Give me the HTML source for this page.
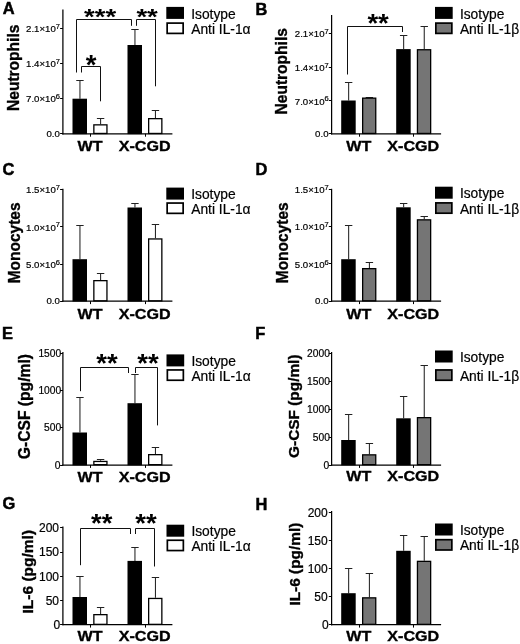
<!DOCTYPE html>
<html><head><meta charset="utf-8"><title>Figure</title>
<style>html,body{margin:0;padding:0;background:#fff}svg{display:block}text{font-family:"Liberation Sans", Arial, sans-serif;fill:#000}</style>
</head><body>
<svg width="520" height="644" viewBox="0 0 520 644">
<rect x="0" y="0" width="520" height="644" fill="#fff"/>
<line x1="79.95" y1="80" x2="79.95" y2="98.7" stroke="#222" stroke-width="1.05"/>
<line x1="76.25" y1="80.5" x2="83.65" y2="80.5" stroke="#222" stroke-width="1.0"/>
<rect x="72.5" y="98.7" width="14.5" height="35.4" fill="#000"/>
<line x1="100.6" y1="118.8" x2="100.6" y2="124.2" stroke="#222" stroke-width="1.05"/>
<line x1="96.9" y1="118.5" x2="104.3" y2="118.5" stroke="#222" stroke-width="1.0"/>
<rect x="93.85" y="124.85" width="13.1" height="8.6" fill="#fff" stroke="#000" stroke-width="1.3"/>
<line x1="134.95" y1="29.5" x2="134.95" y2="45" stroke="#222" stroke-width="1.05"/>
<line x1="131.25" y1="29.5" x2="138.65" y2="29.5" stroke="#222" stroke-width="1.0"/>
<rect x="127.5" y="45" width="14.5" height="89.1" fill="#000"/>
<line x1="155.45" y1="110" x2="155.45" y2="118" stroke="#222" stroke-width="1.05"/>
<line x1="151.75" y1="110.5" x2="159.15" y2="110.5" stroke="#222" stroke-width="1.0"/>
<rect x="148.65" y="118.65" width="13.2" height="14.8" fill="#fff" stroke="#000" stroke-width="1.3"/>
<line x1="62.9" y1="9.5" x2="62.9" y2="134.43" stroke="#000" stroke-width="1.25"/>
<line x1="62.27" y1="133.8" x2="172.4" y2="133.8" stroke="#000" stroke-width="1.25"/>
<line x1="60.1" y1="28.5" x2="62.9" y2="28.5" stroke="#000" stroke-width="1.0"/>
<text x="60" y="31.9" font-size="9.65" text-anchor="end" stroke="#000" stroke-width="0.2">2.1×10<tspan dy="-3.09" font-size="7.53">7</tspan></text>
<line x1="60.1" y1="63.5" x2="62.9" y2="63.5" stroke="#000" stroke-width="1.0"/>
<text x="60" y="67.1" font-size="9.65" text-anchor="end" stroke="#000" stroke-width="0.2">1.4×10<tspan dy="-3.09" font-size="7.53">7</tspan></text>
<line x1="60.1" y1="98.5" x2="62.9" y2="98.5" stroke="#000" stroke-width="1.0"/>
<text x="60" y="102.3" font-size="9.65" text-anchor="end" stroke="#000" stroke-width="0.2">7.0×10<tspan dy="-3.09" font-size="7.53">6</tspan></text>
<line x1="60.1" y1="133.5" x2="62.9" y2="133.5" stroke="#000" stroke-width="1.0"/>
<text x="59.8" y="137" font-size="9.65" text-anchor="end" stroke="#000" stroke-width="0.2">0.0</text>
<line x1="90.5" y1="133.8" x2="90.5" y2="136.7" stroke="#000" stroke-width="1.0"/>
<line x1="145.5" y1="133.8" x2="145.5" y2="136.7" stroke="#000" stroke-width="1.0"/>
<text transform="translate(90.0,151.4) scale(1.05,1)" font-size="15.35" font-weight="700" text-anchor="middle" stroke="#000" stroke-width="0.35">WT</text>
<text transform="translate(144.6,151.4) scale(1.05,1)" font-size="15.35" font-weight="700" text-anchor="middle" stroke="#000" stroke-width="0.35">X-CGD</text>
<text transform="translate(18.6,67.8) rotate(-90) scale(0.945,1)" font-size="16.46" font-weight="700" text-anchor="middle" stroke="#000" stroke-width="0.35">Neutrophils</text>
<text x="2.8" y="14.1" font-size="16.4" font-weight="700" text-anchor="start" stroke="#000" stroke-width="0.5">A</text>
<rect x="166.3" y="6.9" width="17.7" height="12" fill="#000"/>
<rect x="167.15" y="23.1" width="16" height="10.3" fill="#fff" stroke="#000" stroke-width="1.7"/>
<text x="191.2" y="18.5" font-size="13.8" text-anchor="start" stroke="#000" stroke-width="0.2">Isotype</text>
<text x="191.2" y="33.75" font-size="13.8" text-anchor="start" stroke="#000" stroke-width="0.2">Anti IL-1α</text>
<polyline points="76.5,72.5 76.5,19.5 131.5,19.5 131.5,25.8" fill="none" stroke="#111" stroke-width="1.0"/>
<text transform="translate(100.1,23.70) scale(1.02,0.85)" font-size="27" font-weight="700" text-anchor="middle">***</text>
<polyline points="81.5,72.5 81.5,66.5 100.5,66.5 100.5,101.3" fill="none" stroke="#111" stroke-width="1.0"/>
<text transform="translate(91,73.50) scale(1.02,1.03)" font-size="27" font-weight="700" text-anchor="middle">*</text>
<polyline points="136.5,25.8 136.5,19.5 155.5,19.5 155.5,86.3" fill="none" stroke="#111" stroke-width="1.0"/>
<text transform="translate(147.1,23.70) scale(1.02,0.85)" font-size="27" font-weight="700" text-anchor="middle">**</text>
<line x1="348.65" y1="82.5" x2="348.65" y2="100.5" stroke="#222" stroke-width="1.05"/>
<line x1="344.95" y1="82.5" x2="352.35" y2="82.5" stroke="#222" stroke-width="1.0"/>
<rect x="341.2" y="100.5" width="14.5" height="33.6" fill="#000"/>
<line x1="369.4" y1="97" x2="369.4" y2="97.5" stroke="#222" stroke-width="1.05"/>
<line x1="365.7" y1="97.5" x2="373.1" y2="97.5" stroke="#222" stroke-width="1.0"/>
<rect x="362.65" y="98.15" width="13.1" height="35.3" fill="#757575" stroke="#000" stroke-width="1.3"/>
<line x1="403.65" y1="35" x2="403.65" y2="49.1" stroke="#222" stroke-width="1.05"/>
<line x1="399.95" y1="35.5" x2="407.35" y2="35.5" stroke="#222" stroke-width="1.0"/>
<rect x="396.2" y="49.1" width="14.5" height="85" fill="#000"/>
<line x1="424.25" y1="26.2" x2="424.25" y2="49.1" stroke="#222" stroke-width="1.05"/>
<line x1="420.55" y1="26.5" x2="427.95" y2="26.5" stroke="#222" stroke-width="1.0"/>
<rect x="417.45" y="49.75" width="13.2" height="83.7" fill="#757575" stroke="#000" stroke-width="1.3"/>
<line x1="331.6" y1="15" x2="331.6" y2="134.43" stroke="#000" stroke-width="1.25"/>
<line x1="330.97" y1="133.8" x2="441.1" y2="133.8" stroke="#000" stroke-width="1.25"/>
<line x1="328.8" y1="33.5" x2="331.6" y2="33.5" stroke="#000" stroke-width="1.0"/>
<text x="328.7" y="37.2" font-size="9.65" text-anchor="end" stroke="#000" stroke-width="0.2">2.1×10<tspan dy="-3.09" font-size="7.53">7</tspan></text>
<line x1="328.8" y1="67.5" x2="331.6" y2="67.5" stroke="#000" stroke-width="1.0"/>
<text x="328.7" y="70.9" font-size="9.65" text-anchor="end" stroke="#000" stroke-width="0.2">1.4×10<tspan dy="-3.09" font-size="7.53">7</tspan></text>
<line x1="328.8" y1="100.5" x2="331.6" y2="100.5" stroke="#000" stroke-width="1.0"/>
<text x="328.7" y="104.5" font-size="9.65" text-anchor="end" stroke="#000" stroke-width="0.2">7.0×10<tspan dy="-3.09" font-size="7.53">6</tspan></text>
<line x1="328.8" y1="133.5" x2="331.6" y2="133.5" stroke="#000" stroke-width="1.0"/>
<text x="328.5" y="137" font-size="9.65" text-anchor="end" stroke="#000" stroke-width="0.2">0.0</text>
<line x1="359.5" y1="133.8" x2="359.5" y2="136.7" stroke="#000" stroke-width="1.0"/>
<line x1="413.5" y1="133.8" x2="413.5" y2="136.7" stroke="#000" stroke-width="1.0"/>
<text transform="translate(358.7,151.4) scale(1.05,1)" font-size="15.35" font-weight="700" text-anchor="middle" stroke="#000" stroke-width="0.35">WT</text>
<text transform="translate(413.29999999999995,151.4) scale(1.05,1)" font-size="15.35" font-weight="700" text-anchor="middle" stroke="#000" stroke-width="0.35">X-CGD</text>
<text transform="translate(286.8,71.3) rotate(-90) scale(0.945,1)" font-size="16.46" font-weight="700" text-anchor="middle" stroke="#000" stroke-width="0.35">Neutrophils</text>
<text x="255.6" y="14.5" font-size="16.4" font-weight="700" text-anchor="start" stroke="#000" stroke-width="0.5">B</text>
<rect x="435" y="6.9" width="17.7" height="12" fill="#000"/>
<rect x="435.85" y="23.1" width="16" height="10.3" fill="#757575" stroke="#000" stroke-width="1.7"/>
<text x="459.9" y="18.5" font-size="13.8" text-anchor="start" stroke="#000" stroke-width="0.2">Isotype</text>
<text x="459.9" y="33.75" font-size="13.8" text-anchor="start" stroke="#000" stroke-width="0.2">Anti IL-1β</text>
<polyline points="347.5,74.5 347.5,26.5 402.5,26.5 402.5,32" fill="none" stroke="#111" stroke-width="1.0"/>
<text transform="translate(378.1,31.70) scale(1.02,0.96)" font-size="27" font-weight="700" text-anchor="middle">**</text>
<line x1="79.95" y1="225" x2="79.95" y2="259.2" stroke="#222" stroke-width="1.05"/>
<line x1="76.25" y1="225.5" x2="83.65" y2="225.5" stroke="#222" stroke-width="1.0"/>
<rect x="72.5" y="259.2" width="14.5" height="42.3" fill="#000"/>
<line x1="100.6" y1="273.3" x2="100.6" y2="280" stroke="#222" stroke-width="1.05"/>
<line x1="96.9" y1="273.5" x2="104.3" y2="273.5" stroke="#222" stroke-width="1.0"/>
<rect x="93.85" y="280.65" width="13.1" height="20.2" fill="#fff" stroke="#000" stroke-width="1.3"/>
<line x1="134.95" y1="203.7" x2="134.95" y2="207.5" stroke="#222" stroke-width="1.05"/>
<line x1="131.25" y1="203.5" x2="138.65" y2="203.5" stroke="#222" stroke-width="1.0"/>
<rect x="127.5" y="207.5" width="14.5" height="94" fill="#000"/>
<line x1="155.45" y1="224.5" x2="155.45" y2="238.3" stroke="#222" stroke-width="1.05"/>
<line x1="151.75" y1="224.5" x2="159.15" y2="224.5" stroke="#222" stroke-width="1.0"/>
<rect x="148.65" y="238.95" width="13.2" height="61.9" fill="#fff" stroke="#000" stroke-width="1.3"/>
<line x1="62.9" y1="188.8" x2="62.9" y2="301.82" stroke="#000" stroke-width="1.25"/>
<line x1="62.27" y1="301.2" x2="172.4" y2="301.2" stroke="#000" stroke-width="1.25"/>
<line x1="60.1" y1="189.5" x2="62.9" y2="189.5" stroke="#000" stroke-width="1.0"/>
<text x="60" y="193.1" font-size="9.65" text-anchor="end" stroke="#000" stroke-width="0.2">1.5×10<tspan dy="-3.09" font-size="7.53">7</tspan></text>
<line x1="60.1" y1="226.5" x2="62.9" y2="226.5" stroke="#000" stroke-width="1.0"/>
<text x="60" y="230.5" font-size="9.65" text-anchor="end" stroke="#000" stroke-width="0.2">1.0×10<tspan dy="-3.09" font-size="7.53">7</tspan></text>
<line x1="60.1" y1="264.5" x2="62.9" y2="264.5" stroke="#000" stroke-width="1.0"/>
<text x="60" y="267.9" font-size="9.65" text-anchor="end" stroke="#000" stroke-width="0.2">5.0×10<tspan dy="-3.09" font-size="7.53">6</tspan></text>
<line x1="60.1" y1="301.5" x2="62.9" y2="301.5" stroke="#000" stroke-width="1.0"/>
<text x="59.8" y="304.4" font-size="9.65" text-anchor="end" stroke="#000" stroke-width="0.2">0.0</text>
<line x1="90.5" y1="301.2" x2="90.5" y2="304.1" stroke="#000" stroke-width="1.0"/>
<line x1="145.5" y1="301.2" x2="145.5" y2="304.1" stroke="#000" stroke-width="1.0"/>
<text transform="translate(90.0,318.7) scale(1.05,1)" font-size="15.35" font-weight="700" text-anchor="middle" stroke="#000" stroke-width="0.35">WT</text>
<text transform="translate(144.6,318.7) scale(1.05,1)" font-size="15.35" font-weight="700" text-anchor="middle" stroke="#000" stroke-width="0.35">X-CGD</text>
<text transform="translate(19.6,242.9) rotate(-90) scale(0.945,1)" font-size="16.40" font-weight="700" text-anchor="middle" stroke="#000" stroke-width="0.35">Monocytes</text>
<text x="2.4" y="174.8" font-size="16.4" font-weight="700" text-anchor="start" stroke="#000" stroke-width="0.5">C</text>
<rect x="166.3" y="187.6" width="17.7" height="12" fill="#000"/>
<rect x="167.15" y="203.05" width="16" height="10.3" fill="#fff" stroke="#000" stroke-width="1.7"/>
<text x="191.2" y="199.2" font-size="13.8" text-anchor="start" stroke="#000" stroke-width="0.2">Isotype</text>
<text x="191.2" y="213.7" font-size="13.8" text-anchor="start" stroke="#000" stroke-width="0.2">Anti IL-1α</text>
<line x1="348.65" y1="225" x2="348.65" y2="259.2" stroke="#222" stroke-width="1.05"/>
<line x1="344.95" y1="225.5" x2="352.35" y2="225.5" stroke="#222" stroke-width="1.0"/>
<rect x="341.2" y="259.2" width="14.5" height="42.3" fill="#000"/>
<line x1="369.4" y1="262" x2="369.4" y2="268" stroke="#222" stroke-width="1.05"/>
<line x1="365.7" y1="262.5" x2="373.1" y2="262.5" stroke="#222" stroke-width="1.0"/>
<rect x="362.65" y="268.65" width="13.1" height="32.2" fill="#757575" stroke="#000" stroke-width="1.3"/>
<line x1="403.65" y1="203.5" x2="403.65" y2="207.3" stroke="#222" stroke-width="1.05"/>
<line x1="399.95" y1="203.5" x2="407.35" y2="203.5" stroke="#222" stroke-width="1.0"/>
<rect x="396.2" y="207.3" width="14.5" height="94.2" fill="#000"/>
<line x1="424.25" y1="216.8" x2="424.25" y2="219.2" stroke="#222" stroke-width="1.05"/>
<line x1="420.55" y1="216.5" x2="427.95" y2="216.5" stroke="#222" stroke-width="1.0"/>
<rect x="417.45" y="219.85" width="13.2" height="81" fill="#757575" stroke="#000" stroke-width="1.3"/>
<line x1="331.6" y1="188.8" x2="331.6" y2="301.82" stroke="#000" stroke-width="1.25"/>
<line x1="330.97" y1="301.2" x2="441.1" y2="301.2" stroke="#000" stroke-width="1.25"/>
<line x1="328.8" y1="189.5" x2="331.6" y2="189.5" stroke="#000" stroke-width="1.0"/>
<text x="328.7" y="193.1" font-size="9.65" text-anchor="end" stroke="#000" stroke-width="0.2">1.5×10<tspan dy="-3.09" font-size="7.53">7</tspan></text>
<line x1="328.8" y1="226.5" x2="331.6" y2="226.5" stroke="#000" stroke-width="1.0"/>
<text x="328.7" y="230.3" font-size="9.65" text-anchor="end" stroke="#000" stroke-width="0.2">1.0×10<tspan dy="-3.09" font-size="7.53">7</tspan></text>
<line x1="328.8" y1="263.5" x2="331.6" y2="263.5" stroke="#000" stroke-width="1.0"/>
<text x="328.7" y="267.7" font-size="9.65" text-anchor="end" stroke="#000" stroke-width="0.2">5.0×10<tspan dy="-3.09" font-size="7.53">6</tspan></text>
<line x1="328.8" y1="301.5" x2="331.6" y2="301.5" stroke="#000" stroke-width="1.0"/>
<text x="328.5" y="304.4" font-size="9.65" text-anchor="end" stroke="#000" stroke-width="0.2">0.0</text>
<line x1="359.5" y1="301.2" x2="359.5" y2="304.1" stroke="#000" stroke-width="1.0"/>
<line x1="413.5" y1="301.2" x2="413.5" y2="304.1" stroke="#000" stroke-width="1.0"/>
<text transform="translate(358.7,318.7) scale(1.05,1)" font-size="15.35" font-weight="700" text-anchor="middle" stroke="#000" stroke-width="0.35">WT</text>
<text transform="translate(413.29999999999995,318.7) scale(1.05,1)" font-size="15.35" font-weight="700" text-anchor="middle" stroke="#000" stroke-width="0.35">X-CGD</text>
<text transform="translate(288,242.8) rotate(-90) scale(0.945,1)" font-size="16.40" font-weight="700" text-anchor="middle" stroke="#000" stroke-width="0.35">Monocytes</text>
<text x="255.5" y="174.8" font-size="16.4" font-weight="700" text-anchor="start" stroke="#000" stroke-width="0.5">D</text>
<rect x="435" y="186.7" width="17.7" height="12" fill="#000"/>
<rect x="435.85" y="202.9" width="16" height="10.3" fill="#757575" stroke="#000" stroke-width="1.7"/>
<text x="459.9" y="198.3" font-size="13.8" text-anchor="start" stroke="#000" stroke-width="0.2">Isotype</text>
<text x="459.9" y="213.55" font-size="13.8" text-anchor="start" stroke="#000" stroke-width="0.2">Anti IL-1β</text>
<line x1="79.95" y1="397.5" x2="79.95" y2="432.5" stroke="#222" stroke-width="1.05"/>
<line x1="76.25" y1="397.5" x2="83.65" y2="397.5" stroke="#222" stroke-width="1.0"/>
<rect x="72.5" y="432.5" width="14.5" height="32.8" fill="#000"/>
<line x1="100.6" y1="459" x2="100.6" y2="460.8" stroke="#222" stroke-width="1.05"/>
<line x1="96.9" y1="459.5" x2="104.3" y2="459.5" stroke="#222" stroke-width="1.0"/>
<rect x="93.85" y="461.45" width="13.1" height="3.2" fill="#fff" stroke="#000" stroke-width="1.3"/>
<line x1="134.95" y1="374.5" x2="134.95" y2="403.2" stroke="#222" stroke-width="1.05"/>
<line x1="131.25" y1="374.5" x2="138.65" y2="374.5" stroke="#222" stroke-width="1.0"/>
<rect x="127.5" y="403.2" width="14.5" height="62.1" fill="#000"/>
<line x1="155.45" y1="447" x2="155.45" y2="454" stroke="#222" stroke-width="1.05"/>
<line x1="151.75" y1="447.5" x2="159.15" y2="447.5" stroke="#222" stroke-width="1.0"/>
<rect x="148.65" y="454.65" width="13.2" height="10" fill="#fff" stroke="#000" stroke-width="1.3"/>
<line x1="62.9" y1="352" x2="62.9" y2="465.62" stroke="#000" stroke-width="1.25"/>
<line x1="62.27" y1="465" x2="172.4" y2="465" stroke="#000" stroke-width="1.25"/>
<line x1="60.1" y1="353.5" x2="62.9" y2="353.5" stroke="#000" stroke-width="1.0"/>
<text x="61.2" y="356.8" font-size="10.25" text-anchor="end" stroke="#000" stroke-width="0.2">1500</text>
<line x1="60.1" y1="390.5" x2="62.9" y2="390.5" stroke="#000" stroke-width="1.0"/>
<text x="61.2" y="394.1" font-size="10.25" text-anchor="end" stroke="#000" stroke-width="0.2">1000</text>
<line x1="60.1" y1="427.5" x2="62.9" y2="427.5" stroke="#000" stroke-width="1.0"/>
<text x="61.2" y="431.4" font-size="10.25" text-anchor="end" stroke="#000" stroke-width="0.2">500</text>
<line x1="60.1" y1="465.5" x2="62.9" y2="465.5" stroke="#000" stroke-width="1.0"/>
<text x="60.5" y="468.8" font-size="10.25" text-anchor="end" stroke="#000" stroke-width="0.2">0</text>
<line x1="90.5" y1="465" x2="90.5" y2="467.9" stroke="#000" stroke-width="1.0"/>
<line x1="145.5" y1="465" x2="145.5" y2="467.9" stroke="#000" stroke-width="1.0"/>
<text transform="translate(90.0,482.0) scale(1.05,1)" font-size="15.35" font-weight="700" text-anchor="middle" stroke="#000" stroke-width="0.35">WT</text>
<text transform="translate(144.6,482.0) scale(1.05,1)" font-size="15.35" font-weight="700" text-anchor="middle" stroke="#000" stroke-width="0.35">X-CGD</text>
<text transform="translate(29.6,406.6) rotate(-90) scale(1.0,1)" font-size="15.65" font-weight="700" text-anchor="middle" stroke="#000" stroke-width="0.35">G-CSF (pg/ml)</text>
<text x="2" y="339" font-size="16.4" font-weight="700" text-anchor="start" stroke="#000" stroke-width="0.5">E</text>
<rect x="166.5" y="354.4" width="17.7" height="12" fill="#000"/>
<rect x="167.35" y="369.95" width="16" height="10.3" fill="#fff" stroke="#000" stroke-width="1.7"/>
<text x="191.4" y="366" font-size="13.8" text-anchor="start" stroke="#000" stroke-width="0.2">Isotype</text>
<text x="191.4" y="380.6" font-size="13.8" text-anchor="start" stroke="#000" stroke-width="0.2">Anti IL-1α</text>
<polyline points="80.5,391.2 80.5,367.5 128.5,367.5 128.5,373" fill="none" stroke="#111" stroke-width="1.0"/>
<text transform="translate(106.9,372.44) scale(1.02,0.97)" font-size="27" font-weight="700" text-anchor="middle">**</text>
<polyline points="135.5,373 135.5,367.5 157.5,367.5 157.5,425.4" fill="none" stroke="#111" stroke-width="1.0"/>
<text transform="translate(148.0,372.44) scale(1.02,0.97)" font-size="27" font-weight="700" text-anchor="middle">**</text>
<line x1="348.65" y1="414.5" x2="348.65" y2="440" stroke="#222" stroke-width="1.05"/>
<line x1="344.95" y1="414.5" x2="352.35" y2="414.5" stroke="#222" stroke-width="1.0"/>
<rect x="341.2" y="440" width="14.5" height="25.3" fill="#000"/>
<line x1="369.4" y1="443.2" x2="369.4" y2="454.2" stroke="#222" stroke-width="1.05"/>
<line x1="365.7" y1="443.5" x2="373.1" y2="443.5" stroke="#222" stroke-width="1.0"/>
<rect x="362.65" y="454.85" width="13.1" height="9.8" fill="#757575" stroke="#000" stroke-width="1.3"/>
<line x1="403.65" y1="396.8" x2="403.65" y2="418.3" stroke="#222" stroke-width="1.05"/>
<line x1="399.95" y1="396.5" x2="407.35" y2="396.5" stroke="#222" stroke-width="1.0"/>
<rect x="396.2" y="418.3" width="14.5" height="47" fill="#000"/>
<line x1="424.25" y1="365.6" x2="424.25" y2="417" stroke="#222" stroke-width="1.05"/>
<line x1="420.55" y1="365.5" x2="427.95" y2="365.5" stroke="#222" stroke-width="1.0"/>
<rect x="417.45" y="417.65" width="13.2" height="47" fill="#757575" stroke="#000" stroke-width="1.3"/>
<line x1="331.6" y1="352" x2="331.6" y2="465.62" stroke="#000" stroke-width="1.25"/>
<line x1="330.97" y1="465" x2="441.1" y2="465" stroke="#000" stroke-width="1.25"/>
<line x1="328.8" y1="353.5" x2="331.6" y2="353.5" stroke="#000" stroke-width="1.0"/>
<text x="329.9" y="356.8" font-size="10.25" text-anchor="end" stroke="#000" stroke-width="0.2">2000</text>
<line x1="328.8" y1="381.5" x2="331.6" y2="381.5" stroke="#000" stroke-width="1.0"/>
<text x="329.9" y="384.8" font-size="10.25" text-anchor="end" stroke="#000" stroke-width="0.2">1500</text>
<line x1="328.8" y1="409.5" x2="331.6" y2="409.5" stroke="#000" stroke-width="1.0"/>
<text x="329.9" y="412.8" font-size="10.25" text-anchor="end" stroke="#000" stroke-width="0.2">1000</text>
<line x1="328.8" y1="437.5" x2="331.6" y2="437.5" stroke="#000" stroke-width="1.0"/>
<text x="329.9" y="440.8" font-size="10.25" text-anchor="end" stroke="#000" stroke-width="0.2">500</text>
<line x1="328.8" y1="465.5" x2="331.6" y2="465.5" stroke="#000" stroke-width="1.0"/>
<text x="329.2" y="468.8" font-size="10.25" text-anchor="end" stroke="#000" stroke-width="0.2">0</text>
<line x1="359.5" y1="465" x2="359.5" y2="467.9" stroke="#000" stroke-width="1.0"/>
<line x1="413.5" y1="465" x2="413.5" y2="467.9" stroke="#000" stroke-width="1.0"/>
<text transform="translate(358.7,481.4) scale(1.05,1)" font-size="15.35" font-weight="700" text-anchor="middle" stroke="#000" stroke-width="0.35">WT</text>
<text transform="translate(413.29999999999995,481.4) scale(1.05,1)" font-size="15.35" font-weight="700" text-anchor="middle" stroke="#000" stroke-width="0.35">X-CGD</text>
<text transform="translate(298.6,406.2) rotate(-90) scale(1.0,1)" font-size="15.40" font-weight="700" text-anchor="middle" stroke="#000" stroke-width="0.35">G-CSF (pg/ml)</text>
<text x="255.2" y="339" font-size="16.4" font-weight="700" text-anchor="start" stroke="#000" stroke-width="0.5">F</text>
<rect x="435" y="350.5" width="17.7" height="12" fill="#000"/>
<rect x="435.85" y="369.95" width="16" height="10.3" fill="#757575" stroke="#000" stroke-width="1.7"/>
<text x="459.9" y="362.1" font-size="13.8" text-anchor="start" stroke="#000" stroke-width="0.2">Isotype</text>
<text x="459.9" y="380.6" font-size="13.8" text-anchor="start" stroke="#000" stroke-width="0.2">Anti IL-1β</text>
<line x1="79.95" y1="576" x2="79.95" y2="597" stroke="#222" stroke-width="1.05"/>
<line x1="76.25" y1="576.5" x2="83.65" y2="576.5" stroke="#222" stroke-width="1.0"/>
<rect x="72.5" y="597" width="14.5" height="28" fill="#000"/>
<line x1="100.6" y1="607.2" x2="100.6" y2="614" stroke="#222" stroke-width="1.05"/>
<line x1="96.9" y1="607.5" x2="104.3" y2="607.5" stroke="#222" stroke-width="1.0"/>
<rect x="93.85" y="614.65" width="13.1" height="9.7" fill="#fff" stroke="#000" stroke-width="1.3"/>
<line x1="134.95" y1="547.8" x2="134.95" y2="560.9" stroke="#222" stroke-width="1.05"/>
<line x1="131.25" y1="547.5" x2="138.65" y2="547.5" stroke="#222" stroke-width="1.0"/>
<rect x="127.5" y="560.9" width="14.5" height="64.1" fill="#000"/>
<line x1="155.45" y1="577.8" x2="155.45" y2="597.8" stroke="#222" stroke-width="1.05"/>
<line x1="151.75" y1="577.5" x2="159.15" y2="577.5" stroke="#222" stroke-width="1.0"/>
<rect x="148.65" y="598.45" width="13.2" height="25.9" fill="#fff" stroke="#000" stroke-width="1.3"/>
<line x1="62.9" y1="526.5" x2="62.9" y2="625.33" stroke="#000" stroke-width="1.25"/>
<line x1="62.27" y1="624.7" x2="172.4" y2="624.7" stroke="#000" stroke-width="1.25"/>
<line x1="60.1" y1="527.5" x2="62.9" y2="527.5" stroke="#000" stroke-width="1.0"/>
<text x="59" y="532" font-size="12" text-anchor="end" stroke="#000" stroke-width="0.2">200</text>
<line x1="60.1" y1="552.5" x2="62.9" y2="552.5" stroke="#000" stroke-width="1.0"/>
<text x="59" y="556.3" font-size="12" text-anchor="end" stroke="#000" stroke-width="0.2">150</text>
<line x1="60.1" y1="576.5" x2="62.9" y2="576.5" stroke="#000" stroke-width="1.0"/>
<text x="59" y="580.5" font-size="12" text-anchor="end" stroke="#000" stroke-width="0.2">100</text>
<line x1="60.1" y1="600.5" x2="62.9" y2="600.5" stroke="#000" stroke-width="1.0"/>
<text x="59" y="604.8" font-size="12" text-anchor="end" stroke="#000" stroke-width="0.2">50</text>
<line x1="60.1" y1="624.5" x2="62.9" y2="624.5" stroke="#000" stroke-width="1.0"/>
<text x="60.1" y="629" font-size="12" text-anchor="end" stroke="#000" stroke-width="0.2">0</text>
<line x1="90.5" y1="624.7" x2="90.5" y2="627.6" stroke="#000" stroke-width="1.0"/>
<line x1="145.5" y1="624.7" x2="145.5" y2="627.6" stroke="#000" stroke-width="1.0"/>
<text transform="translate(90.0,641.4) scale(1.05,1)" font-size="15.35" font-weight="700" text-anchor="middle" stroke="#000" stroke-width="0.35">WT</text>
<text transform="translate(144.6,641.4) scale(1.05,1)" font-size="15.35" font-weight="700" text-anchor="middle" stroke="#000" stroke-width="0.35">X-CGD</text>
<text transform="translate(32.9,571.7) rotate(-90) scale(1.0,1)" font-size="15.50" font-weight="700" text-anchor="middle" stroke="#000" stroke-width="0.35">IL-6 (pg/ml)</text>
<text x="2.4" y="509.2" font-size="16.4" font-weight="700" text-anchor="start" stroke="#000" stroke-width="0.5">G</text>
<rect x="166.5" y="524.7" width="17.7" height="12" fill="#000"/>
<rect x="167.35" y="540.25" width="16" height="10.3" fill="#fff" stroke="#000" stroke-width="1.7"/>
<text x="191.4" y="536.3" font-size="13.8" text-anchor="start" stroke="#000" stroke-width="0.2">Isotype</text>
<text x="191.4" y="550.9" font-size="13.8" text-anchor="start" stroke="#000" stroke-width="0.2">Anti IL-1α</text>
<polyline points="80.5,565.2 80.5,528.5 130.5,528.5 130.5,534" fill="none" stroke="#111" stroke-width="1.0"/>
<text transform="translate(101.8,532.14) scale(1.02,0.96)" font-size="27" font-weight="700" text-anchor="middle">**</text>
<polyline points="135.5,534 135.5,528.5 154.5,528.5 154.5,566.5" fill="none" stroke="#111" stroke-width="1.0"/>
<text transform="translate(146.0,532.14) scale(1.02,0.96)" font-size="27" font-weight="700" text-anchor="middle">**</text>
<line x1="348.65" y1="568.5" x2="348.65" y2="593.2" stroke="#222" stroke-width="1.05"/>
<line x1="344.95" y1="568.5" x2="352.35" y2="568.5" stroke="#222" stroke-width="1.0"/>
<rect x="341.2" y="593.2" width="14.5" height="31.8" fill="#000"/>
<line x1="369.4" y1="573.2" x2="369.4" y2="597.2" stroke="#222" stroke-width="1.05"/>
<line x1="365.7" y1="573.5" x2="373.1" y2="573.5" stroke="#222" stroke-width="1.0"/>
<rect x="362.65" y="597.85" width="13.1" height="26.5" fill="#757575" stroke="#000" stroke-width="1.3"/>
<line x1="403.65" y1="535.7" x2="403.65" y2="550.8" stroke="#222" stroke-width="1.05"/>
<line x1="399.95" y1="535.5" x2="407.35" y2="535.5" stroke="#222" stroke-width="1.0"/>
<rect x="396.2" y="550.8" width="14.5" height="74.2" fill="#000"/>
<line x1="424.25" y1="536.5" x2="424.25" y2="560.7" stroke="#222" stroke-width="1.05"/>
<line x1="420.55" y1="536.5" x2="427.95" y2="536.5" stroke="#222" stroke-width="1.0"/>
<rect x="417.45" y="561.35" width="13.2" height="63" fill="#757575" stroke="#000" stroke-width="1.3"/>
<line x1="331.6" y1="511" x2="331.6" y2="625.33" stroke="#000" stroke-width="1.25"/>
<line x1="330.97" y1="624.7" x2="441.1" y2="624.7" stroke="#000" stroke-width="1.25"/>
<line x1="328.8" y1="512.5" x2="331.6" y2="512.5" stroke="#000" stroke-width="1.0"/>
<text x="327.7" y="516.5" font-size="12" text-anchor="end" stroke="#000" stroke-width="0.2">200</text>
<line x1="328.8" y1="540.5" x2="331.6" y2="540.5" stroke="#000" stroke-width="1.0"/>
<text x="327.7" y="544.6" font-size="12" text-anchor="end" stroke="#000" stroke-width="0.2">150</text>
<line x1="328.8" y1="568.5" x2="331.6" y2="568.5" stroke="#000" stroke-width="1.0"/>
<text x="327.7" y="572.7" font-size="12" text-anchor="end" stroke="#000" stroke-width="0.2">100</text>
<line x1="328.8" y1="596.5" x2="331.6" y2="596.5" stroke="#000" stroke-width="1.0"/>
<text x="327.7" y="600.8" font-size="12" text-anchor="end" stroke="#000" stroke-width="0.2">50</text>
<line x1="328.8" y1="624.5" x2="331.6" y2="624.5" stroke="#000" stroke-width="1.0"/>
<text x="328.8" y="629" font-size="12" text-anchor="end" stroke="#000" stroke-width="0.2">0</text>
<line x1="359.5" y1="624.7" x2="359.5" y2="627.6" stroke="#000" stroke-width="1.0"/>
<line x1="413.5" y1="624.7" x2="413.5" y2="627.6" stroke="#000" stroke-width="1.0"/>
<text transform="translate(358.7,641.4) scale(1.05,1)" font-size="15.35" font-weight="700" text-anchor="middle" stroke="#000" stroke-width="0.35">WT</text>
<text transform="translate(413.29999999999995,641.4) scale(1.05,1)" font-size="15.35" font-weight="700" text-anchor="middle" stroke="#000" stroke-width="0.35">X-CGD</text>
<text transform="translate(299.7,564.1) rotate(-90) scale(1.0,1)" font-size="15.40" font-weight="700" text-anchor="middle" stroke="#000" stroke-width="0.35">IL-6 (pg/ml)</text>
<text x="255.6" y="509.6" font-size="16.4" font-weight="700" text-anchor="start" stroke="#000" stroke-width="0.5">H</text>
<rect x="435" y="523.5" width="17.7" height="12" fill="#000"/>
<rect x="435.85" y="539.7" width="16" height="10.3" fill="#757575" stroke="#000" stroke-width="1.7"/>
<text x="459.9" y="535.1" font-size="13.8" text-anchor="start" stroke="#000" stroke-width="0.2">Isotype</text>
<text x="459.9" y="550.35" font-size="13.8" text-anchor="start" stroke="#000" stroke-width="0.2">Anti IL-1β</text>
</svg>
</body></html>
